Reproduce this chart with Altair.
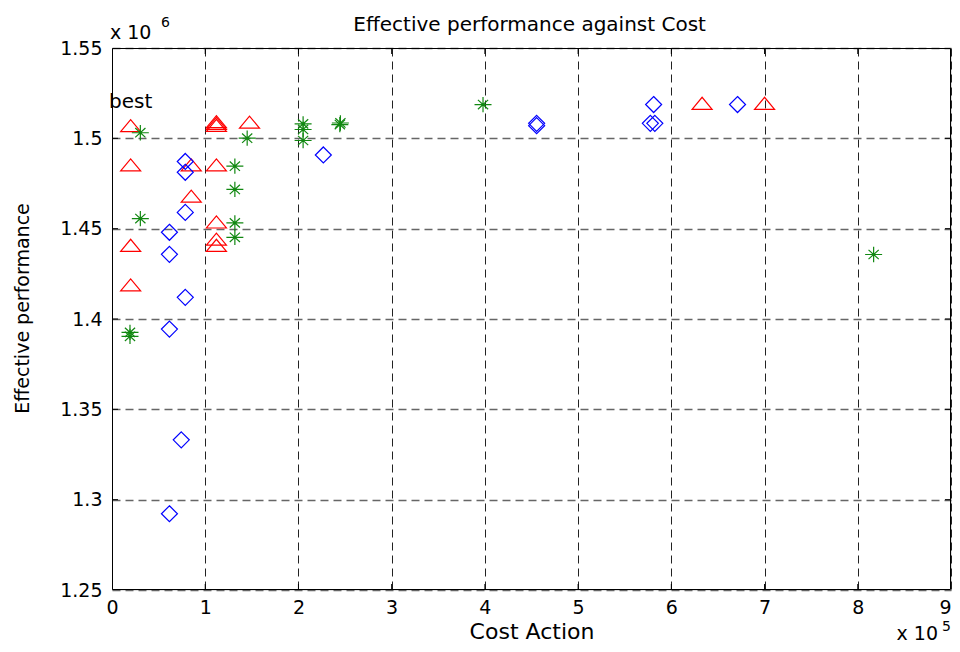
import altair as alt
import pandas as pd

# Data (x in units of 1e5, y in units of 1e6)
tri_x = [0.2, 0.2, 0.2, 0.2, 0.85, 0.85, 1.12, 1.12, 1.12, 1.475, 1.12, 1.12, 1.12, 1.12, 6.33, 7.0]
tri_y = [1.507, 1.4853, 1.4408, 1.4189, 1.4853, 1.468, 1.5092, 1.5083, 1.5072, 1.509, 1.4853, 1.4537, 1.4442, 1.4408, 1.5194, 1.5194]

dia_x = [0.786, 0.786, 0.786, 0.786, 0.616, 0.616, 0.616, 0.616, 0.743, 2.267, 4.555, 4.555, 5.81, 5.775, 5.823, 6.71]
dia_y = [1.4872, 1.4812, 1.459, 1.412, 1.448, 1.4358, 1.3944, 1.2922, 1.3331, 1.4908, 1.5083, 1.507, 1.5187, 1.5083, 1.5083, 1.5187]

star_x = [0.304, 0.304, 0.193, 0.193, 1.45, 1.318, 1.318, 1.318, 1.318, 2.05, 2.05, 2.05, 2.444, 2.45, 3.98, 8.17]
star_y = [1.5031, 1.4556, 1.3926, 1.3904, 1.5001, 1.4846, 1.4717, 1.4532, 1.4452, 1.508, 1.5049, 1.4988, 1.5076, 1.5085, 1.5187, 1.4357]

x_ticks = [0, 1, 2, 3, 4, 5, 6, 7, 8, 9]
y_ticks = [1.25, 1.3, 1.35, 1.4, 1.45, 1.5, 1.55]

title_text = "Effective performance against Cost"
x_title = "Cost Action"
y_title = "Effective performance"

FONT = "DejaVu Sans"
W, H = 839, 542

xscale = alt.Scale(domain=[0, 9], nice=False, zero=False)
yscale = alt.Scale(domain=[1.25, 1.55], nice=False, zero=False)

X = alt.X("x:Q", scale=xscale, axis=alt.Axis(
    values=x_ticks, format="d", title=x_title, grid=True, gridDash=[8, 5],
    gridColor="#222222", gridWidth=1, ticks=False, domain=False, labelFlush=False,
    labelAlign=alt.condition("datum.value == 9", alt.value("right"), alt.value("center")),
    labelFont=FONT, labelFontSize=19, labelColor="black", labelPadding=8,
    titleFont=FONT, titleFontSize=22, titleFontWeight="normal", titleColor="black",
    titleY=48, titleBaseline="alphabetic"))
Y = alt.Y("y:Q", scale=yscale, axis=alt.Axis(
    values=y_ticks, format="~g", title=y_title, grid=True, gridDash=[8, 5],
    gridColor="#666666", gridWidth=1.3, ticks=False, domain=False, labelFlush=False,
    labelFont=FONT, labelFontSize=19, labelColor="black", labelPadding=10,
    titleFont=FONT, titleFontSize=19, titleFontWeight="normal", titleColor="black",
    titleAngle=270, titleBaseline="alphabetic", titleX=-84, titleY=260))

df_tri = pd.DataFrame({"x": tri_x, "y": tri_y})
df_dia = pd.DataFrame({"x": dia_x, "y": dia_y})
df_star = pd.DataFrame({"x": star_x, "y": star_y})

TRI = "M-1,0.6L1,0.6L0,-0.6Z"
DIA = "M0,-1L1,0L0,1L-1,0Z"
STAR = "M-1,0L1,0M0,-0.9L0,0.9M-0.6,-0.55L0.6,0.55M-0.6,0.55L0.6,-0.55"

tri = alt.Chart(df_tri).mark_point(shape=TRI, size=400, filled=False, color="#ff0000",
                                   strokeWidth=1.2, opacity=1).encode(x=X, y=Y)
dia = alt.Chart(df_dia).mark_point(shape=DIA, size=256, filled=False, color="#0000ff",
                                   strokeWidth=1.2, opacity=1).encode(x=X, y=Y)
star = alt.Chart(df_star).mark_point(shape=STAR, size=289, filled=False, color="#118811",
                                     strokeWidth=1.2, opacity=1).encode(x=X, y=Y)

# inward tick marks on all four sides
df_xt = pd.DataFrame({"x": x_ticks[1:-1]})
df_yt = pd.DataFrame({"y": y_ticks[1:-1]})
tick_b = alt.Chart(df_xt).mark_rule(color="black", strokeWidth=1).encode(x=X, y=alt.value(H), y2=alt.value(H - 6))
tick_t = alt.Chart(df_xt).mark_rule(color="black", strokeWidth=1).encode(x=X, y=alt.value(0), y2=alt.value(6))
tick_l = alt.Chart(df_yt).mark_rule(color="black", strokeWidth=1).encode(y=Y, x=alt.value(0), x2=alt.value(6))
tick_r = alt.Chart(df_yt).mark_rule(color="black", strokeWidth=1).encode(y=Y, x=alt.value(W), x2=alt.value(W - 6))

# axes box
df_box = pd.DataFrame({"k": [0]})
box = alt.Chart(df_box).mark_rect(fillOpacity=0, stroke="black", strokeWidth=1).encode(
    x=alt.value(0.5), x2=alt.value(W - 0.5), y=alt.value(0.5), y2=alt.value(H - 0.5))

# title and annotations
df_title = pd.DataFrame({"x": [4.48], "y": [1.55], "t": [title_text]})
ttl = alt.Chart(df_title).mark_text(font=FONT, fontSize=20, align="center", baseline="alphabetic",
                                    dy=-17, color="black").encode(x=X, y=Y, text="t:N")

df_best = pd.DataFrame({"x": [0], "y": [1.52], "t": ["best"]})
best = alt.Chart(df_best).mark_text(font=FONT, fontSize=20, align="left", baseline="middle",
                                    dx=-3, color="black").encode(x=X, y=Y, text="t:N")

df_e6 = pd.DataFrame({"x": [0], "y": [1.55], "t": ["x 10"], "s": ["6"]})
e6a = alt.Chart(df_e6).mark_text(font=FONT, fontSize=19, align="left", baseline="alphabetic",
                                 dx=-2, dy=-9, color="black").encode(x=X, y=Y, text="t:N")
e6b = alt.Chart(df_e6).mark_text(font=FONT, fontSize=14, align="left", baseline="alphabetic",
                                 dx=49, dy=-21, color="black").encode(x=X, y=Y, text="s:N")

df_e5 = pd.DataFrame({"x": [9], "y": [1.25], "t": ["x 10"], "s": ["5"]})
e5a = alt.Chart(df_e5).mark_text(font=FONT, fontSize=19, align="right", baseline="alphabetic",
                                 dx=-13, dy=50, color="black").encode(x=X, y=Y, text="t:N")
e5b = alt.Chart(df_e5).mark_text(font=FONT, fontSize=14, align="left", baseline="alphabetic",
                                 dx=-9, dy=41, color="black").encode(x=X, y=Y, text="s:N")

chart = alt.layer(box, tick_b, tick_t, tick_l, tick_r, tri, dia, star, ttl, best, e6a, e6b, e5a, e5b).properties(
    width=W, height=H,
    autosize=alt.AutoSizeParams(type="none"),
    padding={"left": 104, "top": 40, "right": 1, "bottom": 54},
).configure_view(stroke="black", strokeWidth=1).configure(background="white")

chart.save("out.html", embed_options={"renderer": "svg", "actions": False})
